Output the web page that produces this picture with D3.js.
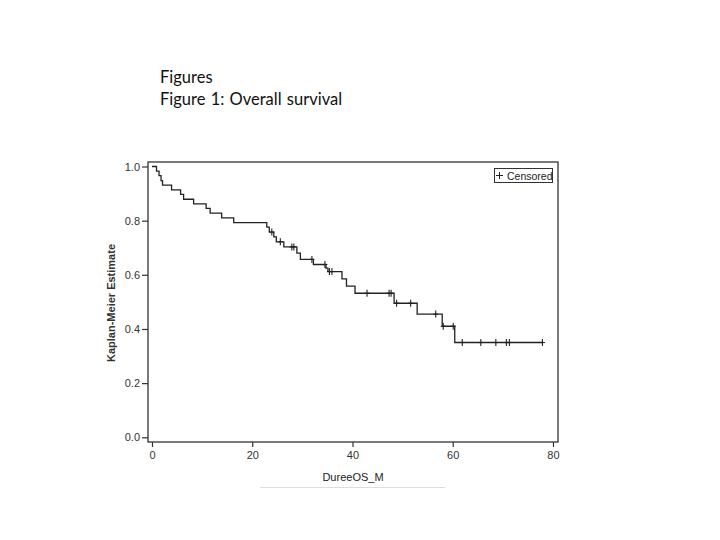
<!DOCTYPE html>
<html>
<head>
<meta charset="utf-8">
<script src="https://cdn.jsdelivr.net/npm/d3@7"></script>
<style>
  html, body { margin: 0; padding: 0; background: #fff; }
  svg { display: block; }
</style>
</head>
<body>
<svg id="chart" width="720" height="540"></svg>
<script>
// ---- Data ----
const titleLines = ["Figures", "Figure 1: Overall survival"];
const xLabel = "DureeOS_M";
const yLabel = "Kaplan-Meier Estimate";
const legendLabel = "Censored";
const xTicks = [0, 20, 40, 60, 80];
const yTicks = [0.0, 0.2, 0.4, 0.6, 0.8, 1.0];

// Kaplan-Meier step points: time (months) at which the curve drops and the new survival value
const eventTimes = [0.9, 1.4, 1.8, 2.1, 3.9, 5.7, 6.3, 8.3, 10.8, 11.6, 13.9, 16.3,
  22.9, 23.4, 24.3, 24.8, 26.3, 28.9, 29.6, 32.2, 34.7, 35.1, 37.9, 38.8, 40.5,
  48.3, 52.9, 57.9, 60.4];
const survivalValues = [0.983, 0.966, 0.948, 0.931, 0.914, 0.897, 0.879, 0.862, 0.845, 0.828, 0.810, 0.793,
  0.776, 0.758, 0.740, 0.722, 0.703, 0.680, 0.657, 0.638, 0.625, 0.612, 0.585, 0.558, 0.532,
  0.495, 0.455, 0.410, 0.350];
// Censored observations (months)
const censorTimes = [23.9, 25.6, 27.9, 28.3, 31.9, 34.5, 35.4, 35.9, 42.9, 47.3, 47.7,
  48.8, 51.6, 56.6, 58.1, 60.1, 61.9, 65.6, 68.6, 70.7, 71.3, 77.9];
const lastTime = 77.9;

// ---- Layout ----
const svg = d3.select("#chart");
const frame = { left: 148, right: 558, top: 162, bottom: 442 };

const x = d3.scaleLinear().domain([-0.8, 81.0]).range([frame.left, frame.right]);
const y = d3.scaleLinear().domain([-0.0174, 1.0166]).range([frame.bottom, frame.top]);

// Title text
svg.selectAll("text.title").data(titleLines).join("text")
  .attr("class", "title")
  .attr("x", 160)
  .attr("y", (d, i) => 83 + i * 22)
  .attr("font-family", "Lato, 'Open Sans', sans-serif")
  .attr("font-size", 16.5)
  .attr("word-spacing", 1)
  .attr("fill", "#111")
  .text(d => d);

// Frame
svg.append("rect")
  .attr("x", frame.left).attr("y", frame.top)
  .attr("width", frame.right - frame.left).attr("height", frame.bottom - frame.top)
  .attr("fill", "none").attr("stroke", "#333").attr("stroke-width", 1.3);

// Axes
const axisFont = "Arial, 'Liberation Sans', sans-serif";
const xAxis = svg.append("g")
  .attr("transform", `translate(0,${frame.bottom})`)
  .call(d3.axisBottom(x).tickValues(xTicks).tickFormat(d3.format("d")).tickSize(5).tickPadding(4));
const yAxis = svg.append("g")
  .attr("transform", `translate(${frame.left},0)`)
  .call(d3.axisLeft(y).tickValues(yTicks).tickFormat(d3.format(".1f")).tickSize(6).tickPadding(2));
[xAxis, yAxis].forEach(g => {
  g.select(".domain").remove();
  g.selectAll("line").attr("stroke", "#333").attr("stroke-width", 1.2);
  g.selectAll("text").attr("font-family", axisFont).attr("font-size", 11).attr("fill", "#333");
});

// Axis labels
svg.append("text")
  .attr("x", 353).attr("y", 481)
  .attr("text-anchor", "middle")
  .attr("font-family", axisFont).attr("font-size", 11).attr("fill", "#222")
  .text(xLabel);
svg.append("text")
  .attr("transform", "translate(115,303) rotate(-90)")
  .attr("text-anchor", "middle")
  .attr("font-family", axisFont).attr("font-size", 11).attr("font-weight", "bold").attr("fill", "#333")
  .text(yLabel);

// faint line under x label
svg.append("line")
  .attr("x1", 260).attr("x2", 445).attr("y1", 487.5).attr("y2", 487.5)
  .attr("stroke", "#ddd").attr("stroke-width", 1);

// KM curve
const pts = [[0, 1.0]].concat(eventTimes.map((t, i) => [t, survivalValues[i]]));
pts.push([lastTime, survivalValues[survivalValues.length - 1]]);
const line = d3.line().x(d => x(d[0])).y(d => y(d[1])).curve(d3.curveStepAfter);
svg.append("path")
  .attr("d", line(pts))
  .attr("fill", "none").attr("stroke", "#222").attr("stroke-width", 1.3);

// Censor marks
function survAt(t) {
  let s = 1.0;
  for (let i = 0; i < eventTimes.length; i++) if (eventTimes[i] <= t) s = survivalValues[i];
  return s;
}
const cg = svg.append("g").attr("stroke", "#222").attr("stroke-width", 1.1);
censorTimes.forEach(t => {
  const cx = x(t), cy = y(survAt(t));
  cg.append("line").attr("x1", cx).attr("x2", cx).attr("y1", cy - 3.5).attr("y2", cy + 3.5);
  cg.append("line").attr("x1", cx - 2.5).attr("x2", cx + 2.5).attr("y1", cy).attr("y2", cy);
});

// Legend
const lg = svg.append("g");
lg.append("rect").attr("x", 494.5).attr("y", 168.5).attr("width", 58).attr("height", 14)
  .attr("fill", "#fff").attr("stroke", "#333").attr("stroke-width", 1);
lg.append("line").attr("x1", 496).attr("x2", 503).attr("y1", 175.5).attr("y2", 175.5).attr("stroke", "#222");
lg.append("line").attr("x1", 499.5).attr("x2", 499.5).attr("y1", 172).attr("y2", 179).attr("stroke", "#222");
lg.append("text").attr("x", 507).attr("y", 179.5)
  .attr("font-family", axisFont).attr("font-size", 10.5).attr("fill", "#222")
  .text(legendLabel);
</script>
</body>
</html>
